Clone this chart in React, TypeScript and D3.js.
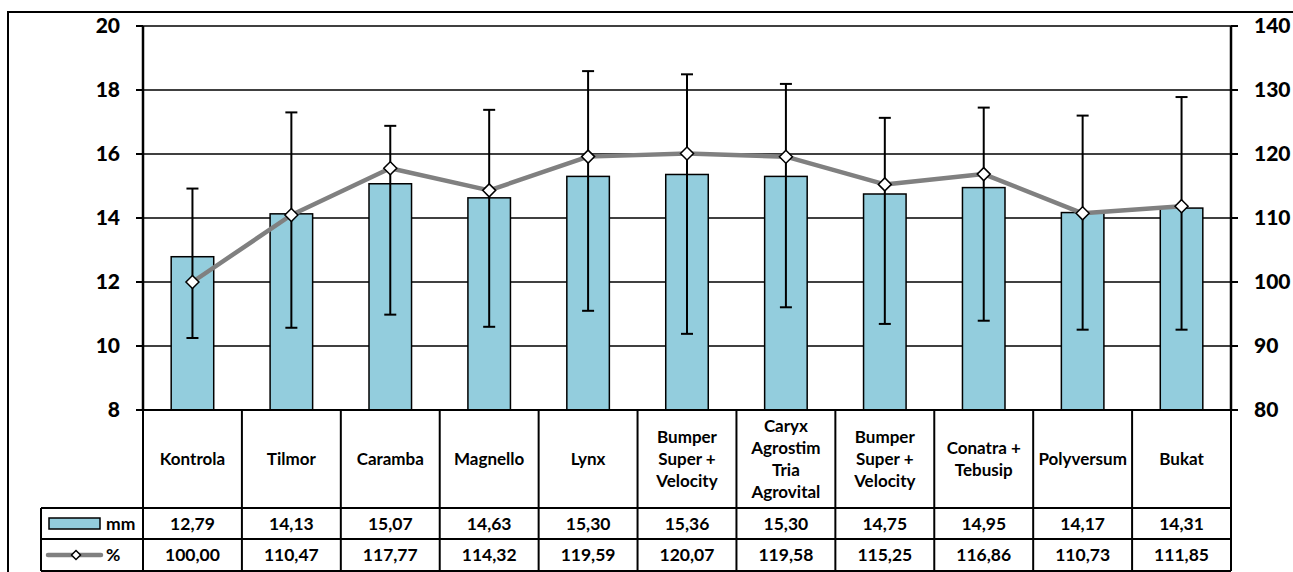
import React from 'react';
import * as d3 from 'd3';

const categories: string[][] = [
  ['Kontrola'],
  ['Tilmor'],
  ['Caramba'],
  ['Magnello'],
  ['Lynx'],
  ['Bumper', 'Super +', 'Velocity'],
  ['Caryx', 'Agrostim', 'Tria', 'Agrovital'],
  ['Bumper', 'Super +', 'Velocity'],
  ['Conatra +', 'Tebusip'],
  ['Polyversum'],
  ['Bukat'],
];
const mmValues = [12.79, 14.13, 15.07, 14.63, 15.30, 15.36, 15.30, 14.75, 14.95, 14.17, 14.31];
const pctValues = [100.00, 110.47, 117.77, 114.32, 119.59, 120.07, 119.58, 115.25, 116.86, 110.73, 111.85];
// error bar ends, read in mm
const errHigh = [14.92, 17.3, 16.88, 17.38, 18.59, 18.49, 18.19, 17.13, 17.45, 17.2, 17.78];
const errLow = [10.25, 10.57, 10.98, 10.6, 11.1, 10.38, 11.21, 10.69, 10.79, 10.51, 10.51];
const leftTicks = [8, 10, 12, 14, 16, 18, 20];
const rightTicks = [80, 90, 100, 110, 120, 130, 140];

const W = 1293;
const H = 572;
const plot = { left: 143, right: 1231, top: 26, bottom: 410 };
const rowCat = 508;
const rowMm = 539;
const rowPct = 571;
const legendLeft = 41;
const font = 'Lato, "Open Sans", sans-serif';
const barFill = '#93CDDD';

const fmt = (v: number) => v.toFixed(2).replace('.', ',');

export default function App() {
  const idx = categories.map((_, i) => i);
  const x = d3.scaleBand<number>().domain(idx).range([plot.left, plot.right]).padding(0);
  const yL = d3.scaleLinear().domain([8, 20]).range([plot.bottom, plot.top]);
  const yR = d3.scaleLinear().domain([80, 140]).range([plot.bottom, plot.top]);
  const bw = x.bandwidth();
  const barW = bw * 0.43;
  const cx = (i: number) => (x(i) as number) + bw / 2;

  const line = d3.line<number>()
    .x((_, i) => cx(i))
    .y(d => yR(d));

  const diamond = (s: number) => `M0,${-s}L${s},0L0,${s}L${-s},0Z`;

  return (
    <svg width={W} height={H} style={{ position: 'absolute', left: 0, top: 0, background: '#fff' }}
      fontFamily={font} fontWeight="bold">
      {/* outer frame */}
      <rect x={8} y={12} width={W + 20} height={H + 20} fill="none" stroke="#000" strokeWidth={2} />

      {/* gridlines */}
      {leftTicks.slice(1).map(t => (
        <line key={t} x1={plot.left} x2={plot.right} y1={yL(t)} y2={yL(t)} stroke="#000" strokeWidth={1.3} />
      ))}

      {/* bars */}
      {mmValues.map((v, i) => (
        <rect key={i} x={cx(i) - barW / 2} y={yL(v)} width={barW} height={yL(8) - yL(v)}
          fill={barFill} stroke="#000" strokeWidth={1.5} />
      ))}

      {/* error bars */}
      {mmValues.map((_, i) => (
        <g key={i} stroke="#000" strokeWidth={2}>
          <line x1={cx(i)} x2={cx(i)} y1={yL(errHigh[i])} y2={yL(errLow[i])} />
          <line x1={cx(i) - 6} x2={cx(i) + 6} y1={yL(errHigh[i])} y2={yL(errHigh[i])} />
          <line x1={cx(i) - 6} x2={cx(i) + 6} y1={yL(errLow[i])} y2={yL(errLow[i])} />
        </g>
      ))}

      {/* percent line */}
      <path d={line(pctValues) || ''} fill="none" stroke="#808080" strokeWidth={4.5} strokeLinejoin="round" />
      {pctValues.map((v, i) => (
        <path key={i} d={diamond(6.5)} transform={`translate(${cx(i)},${yR(v)})`}
          fill="#fff" stroke="#000" strokeWidth={1.5} />
      ))}

      {/* axes */}
      <line x1={plot.left} x2={plot.left} y1={plot.top} y2={plot.bottom} stroke="#000" strokeWidth={2.5} />
      <line x1={plot.right} x2={plot.right} y1={plot.top} y2={plot.bottom} stroke="#000" strokeWidth={2.5} />
      {leftTicks.map(t => (
        <g key={t}>
          <line x1={plot.left - 7} x2={plot.left} y1={yL(t)} y2={yL(t)} stroke="#000" strokeWidth={2} />
          <text x={120} y={yL(t)} dy="0.35em" textAnchor="end" fontSize={21} fontWeight={900}>{t}</text>
        </g>
      ))}
      {rightTicks.map(t => (
        <g key={t}>
          <line x1={plot.right} x2={plot.right + 7} y1={yR(t)} y2={yR(t)} stroke="#000" strokeWidth={2} />
          <text x={1254} y={yR(t)} dy="0.35em" textAnchor="start" fontSize={21} fontWeight={900}>{t}</text>
        </g>
      ))}

      {/* data table */}
      <g stroke="#000" strokeWidth={2} fill="none">
        <line x1={plot.left} x2={plot.right} y1={plot.bottom} y2={plot.bottom} />
        <line x1={legendLeft} x2={plot.right} y1={rowCat} y2={rowCat} />
        <line x1={legendLeft} x2={plot.right} y1={rowMm} y2={rowMm} />
        <line x1={legendLeft} x2={plot.right} y1={rowPct} y2={rowPct} />
        <line x1={legendLeft} x2={legendLeft} y1={rowCat} y2={rowPct} />
        {idx.concat([idx.length]).map(i => {
          const xx = i < idx.length ? (x(i) as number) : plot.right;
          return <line key={i} x1={xx} x2={xx} y1={plot.bottom} y2={rowPct} />;
        })}
      </g>

      {categories.map((lines, i) => {
        const cy = (plot.bottom + rowCat) / 2;
        const lh = 22;
        const start = cy - ((lines.length - 1) * lh) / 2;
        return (
          <text key={i} x={cx(i)} textAnchor="middle" fontSize={17}>
            {lines.map((l, j) => (
              <tspan key={j} x={cx(i)} y={start + j * lh} dy="0.35em">{l}</tspan>
            ))}
          </text>
        );
      })}

      {mmValues.map((v, i) => (
        <text key={i} x={cx(i)} y={(rowCat + rowMm) / 2} dy="0.35em" textAnchor="middle" fontSize={17.5}>{fmt(v)}</text>
      ))}
      {pctValues.map((v, i) => (
        <text key={i} x={cx(i)} y={(rowMm + rowPct) / 2} dy="0.35em" textAnchor="middle" fontSize={17.5}>{fmt(v)}</text>
      ))}

      {/* legend keys */}
      <rect x={49} y={518} width={51} height={11} fill={barFill} stroke="#000" strokeWidth={1.5} />
      <text x={106} y={(rowCat + rowMm) / 2} dy="0.35em" fontSize={17.5}>mm</text>
      <line x1={48} x2={101} y1={555} y2={555} stroke="#808080" strokeWidth={4.5} strokeLinecap="round" />
      <path d={diamond(4.5)} transform="translate(76,555)" fill="#fff" stroke="#000" strokeWidth={1.5} />
      <text x={106} y={(rowMm + rowPct) / 2} dy="0.35em" fontSize={17.5}>%</text>
    </svg>
  );
}
